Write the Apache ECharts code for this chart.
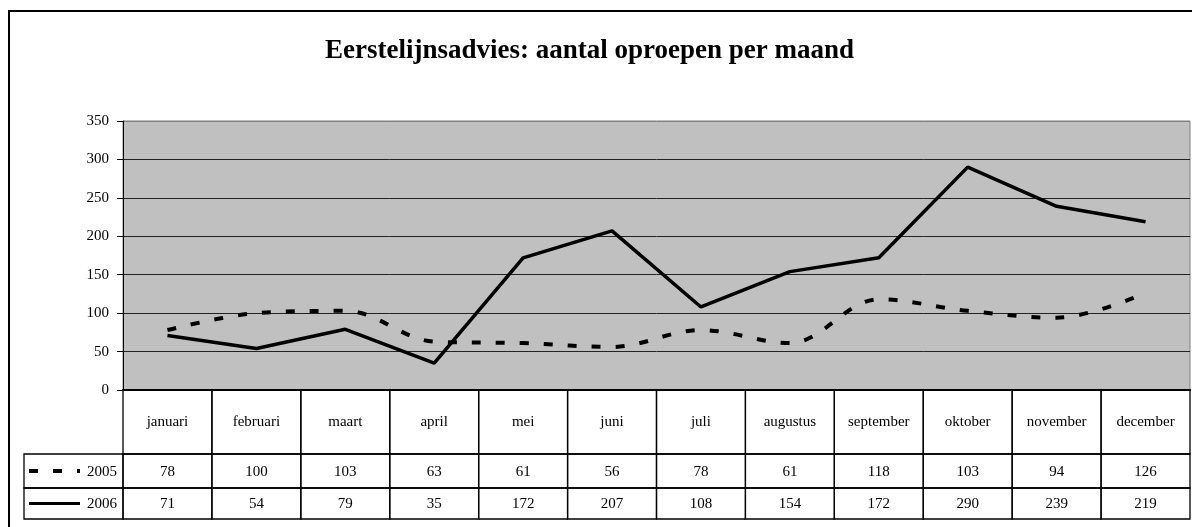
<!DOCTYPE html>
<html>
<head>
<meta charset="utf-8">
<script src="https://cdn.jsdelivr.net/npm/echarts@6/dist/echarts.min.js"></script>
<style>
  html, body { margin: 0; padding: 0; background: #fff; }
  #chart { width: 1192px; height: 527px; }
</style>
</head>
<body>
<div id="chart"></div>
<script>
// chart data
const months = ['januari', 'februari', 'maart', 'april', 'mei', 'juni', 'juli',
  'augustus', 'september', 'oktober', 'november', 'december']
const seriesNames = ['2005', '2006']
const values2005 = [78, 100, 103, 63, 61, 56, 78, 61, 118, 103, 94, 126]
const values2006 = [71, 54, 79, 35, 172, 207, 108, 154, 172, 290, 239, 219]
const titleText = 'Eerstelijnsadvies: aantal oproepen per maand'

const font = '"Liberation Serif", "DejaVu Serif", serif'
const headerH = 64
const row1H = 34
const keyColW = 99
const dash2005 = [9, 15]

const chart = echarts.init(document.getElementById('chart'))

// one table column per month, under the plot
function renderTableCol(params, api) {
  const i = api.value(0)
  const cs = params.coordSys
  const cx = api.coord([i, 0])[0]
  const w = api.size([1, 0])[0]
  const x0 = cx - w / 2
  const y0 = cs.y
  const r2H = cs.height - headerH - row1H
  const stroke = { stroke: '#000', lineWidth: 1.3, fill: null }
  const txt = (s, y) => ({
    type: 'text',
    style: { text: s, x: cx, y: y, align: 'center', verticalAlign: 'middle',
      font: '15px ' + font, fill: '#000' }
  })
  return {
    type: 'group',
    children: [
      { type: 'rect', shape: { x: x0, y: y0, width: w, height: headerH }, style: stroke },
      { type: 'rect', shape: { x: x0, y: y0 + headerH, width: w, height: row1H }, style: stroke },
      { type: 'rect', shape: { x: x0, y: y0 + headerH + row1H, width: w, height: r2H }, style: stroke },
      txt(months[i], y0 + headerH / 2),
      txt(String(api.value(1)), y0 + headerH + row1H / 2 + 1),
      txt(String(api.value(2)), y0 + headerH + row1H + r2H / 2 + 1)
    ]
  }
}

// legend keys at the left of the two value rows
function renderKeyCell(params, api) {
  const r = api.value(1)
  const cs = params.coordSys
  const r2H = cs.height - headerH - row1H
  const x0 = cs.x - keyColW
  const y0 = cs.y + headerH + (r === 0 ? 0 : row1H)
  const h = r === 0 ? row1H : r2H
  const cy = y0 + h / 2
  return {
    type: 'group',
    children: [
      { type: 'rect', shape: { x: x0, y: y0, width: keyColW, height: h },
        style: { stroke: '#000', lineWidth: 1.3, fill: null } },
      { type: 'line', shape: { x1: x0 + 5, y1: cy, x2: x0 + 56, y2: cy },
        style: { stroke: '#000', lineWidth: r === 0 ? 4 : 3,
          lineDash: r === 0 ? dash2005 : null } },
      { type: 'text', style: { text: seriesNames[r], x: cs.x - 6, y: cy + 1,
          align: 'right', verticalAlign: 'middle', font: '15px ' + font, fill: '#000' } }
    ]
  }
}

const option = {
  animation: false,
  backgroundColor: '#fff',
  title: {
    text: titleText,
    left: 320,
    top: 33,
    textStyle: { fontFamily: font, fontSize: 27, fontWeight: 'bold', color: '#000' }
  },
  graphic: [{
    type: 'rect',
    shape: { x: 9, y: 11, width: 1200, height: 530 },
    style: { stroke: '#000', lineWidth: 2, fill: null },
    z: 100
  }],
  grid: [
    { left: 123, top: 121, right: 2, height: 269, show: true,
      backgroundColor: '#c0c0c0', borderColor: '#808080', borderWidth: 1 },
    { left: 123, top: 390, right: 2, height: 129 }
  ],
  xAxis: [
    { gridIndex: 0, type: 'category', data: months, boundaryGap: true,
      axisLine: { show: true, lineStyle: { color: '#000', width: 2 } },
      axisTick: { show: false }, axisLabel: { show: false }, splitLine: { show: false } },
    { gridIndex: 1, type: 'category', data: months, boundaryGap: true, show: false }
  ],
  yAxis: [
    { gridIndex: 0, type: 'value', min: 0, max: 350, interval: 50,
      axisLine: { show: true, lineStyle: { color: '#000', width: 1 } },
      axisTick: { show: true, length: 6, lineStyle: { color: '#000' } },
      axisLabel: { margin: 14, fontFamily: font, fontSize: 15, color: '#000' },
      splitLine: { show: true, lineStyle: { width: 1,
        color: ['#222', '#222', '#222', '#222', '#222', '#222', '#222', '#808080'] } } },
    { gridIndex: 1, type: 'value', min: 0, max: 1, show: false }
  ],
  series: [
    {
      name: seriesNames[0], type: 'line', data: values2005,
      smooth: 0.35, showSymbol: false, symbol: 'none',
      lineStyle: { color: '#000', width: 4, type: dash2005 }
    },
    {
      name: seriesNames[1], type: 'line', data: values2006,
      showSymbol: false, symbol: 'none',
      lineStyle: { color: '#000', width: 3.5 }
    },
    {
      type: 'custom', xAxisIndex: 1, yAxisIndex: 1,
      data: months.map((m, i) => [i, values2005[i], values2006[i]]),
      renderItem: renderTableCol
    },
    {
      type: 'custom', xAxisIndex: 1, yAxisIndex: 1,
      data: [[0, 0], [0, 1]],
      renderItem: renderKeyCell
    }
  ]
}

chart.setOption(option)
</script>
</body>
</html>
